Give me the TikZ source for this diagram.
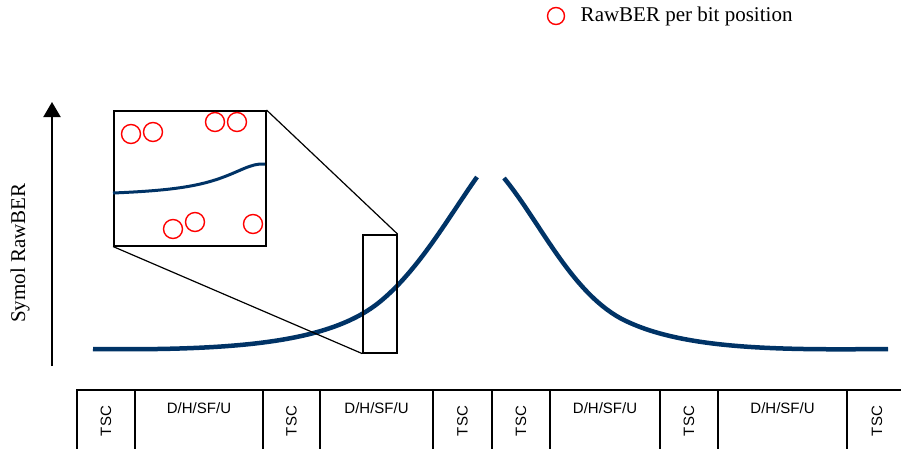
\documentclass[tikz,border=0pt]{standalone}
\usepackage{fontspec}
\setmainfont{Liberation Serif}
\setsansfont{Liberation Sans}
\usetikzlibrary{arrows.meta, positioning}
\definecolor{bernavy}{RGB}{0,51,102}
\tikzset{
  bercurve/.style={line width=4.5pt, bernavy},
  zoomcurve/.style={line width=3pt, bernavy},
  bitdot/.style={circle, draw=red, line width=1.4pt, minimum size=19pt, inner sep=0pt},
  zoombox/.style={rectangle, draw=black, line width=1.5pt, inner sep=0pt, fill=white},
  zoomline/.style={black, line width=1.2pt},
  axis/.style={-{Triangle[length=15pt, width=17pt]}, line width=2pt, black},
  slotbox/.style={rectangle, draw=black, line width=1.4pt, outer sep=0pt, inner sep=0pt,
    minimum height=62pt, font=\sffamily\fontsize{15}{15}\selectfont},
  tscbox/.style={slotbox, minimum width=58pt},
  databox/.style={slotbox, text height=11pt, text depth=27pt, inner ysep=12pt}
}
\begin{document}
\begin{tikzpicture}[x=1pt, y=-1pt]
  \useasboundingbox (0,0) rectangle (901,448);

  % legend
  \node[bitdot, minimum size=17pt] (key) at (556,16) {};
  \node[right=12pt of key, font=\fontsize{21}{21}\selectfont] (keytext) {RawBER per bit position};

  % y axis
  \coordinate (ybot) at (52,366);
  \coordinate (ytop) at (52,102);
  \draw[axis] (ybot) -- (ytop);
  \node[rotate=90, font=\fontsize{21}{21}\selectfont] (ylabel) at (20,253) {Symol RawBER};

  % RawBER curve
  \draw[bercurve] (93,349) .. controls (250,351) and (335,340) .. (382,300)
                  .. controls (420,268) and (450,215) .. (477,177);
  \draw[bercurve] (504,178) .. controls (540,222) and (570,290) .. (620,318)
                  .. controls (680,350) and (780,350) .. (888,349);

  % zoomed window
  \node[zoombox, fill=none, minimum width=34pt, minimum height=118pt, anchor=north west] (win) at (362,234) {};
  \node[zoombox, minimum width=152pt, minimum height=135pt, anchor=north west] (inset) at (113,110) {};
  \draw[zoomline] (inset.north east) -- (win.north east);
  \draw[zoomline] (inset.south west) -- (win.south west);
  \draw[zoomcurve] (113,193) .. controls (160,191) and (190,188) .. (215,180)
                   .. controls (240,172) and (250,163) .. (265,164);
  \node[bitdot] (b1) at (131,134) {};
  \node[bitdot] (b2) at (153,132) {};
  \node[bitdot] (b3) at (215,122) {};
  \node[bitdot] (b4) at (237,122) {};
  \node[bitdot] (b5) at (173,229) {};
  \node[bitdot] (b6) at (195,222) {};
  \node[bitdot] (b7) at (253,224) {};

  % burst structure
  \node[tscbox, anchor=north west] (s1) at (77,390) {\rotatebox{90}{TSC}};
  \node[databox, minimum width=128pt, right=0pt of s1.north east, anchor=north west] (d1) {D/H/SF/U};
  \node[tscbox, minimum width=57pt, right=0pt of d1.north east, anchor=north west] (s2) {\rotatebox{90}{TSC}};
  \node[databox, minimum width=113pt, right=0pt of s2.north east, anchor=north west] (d2) {D/H/SF/U};
  \node[tscbox, minimum width=59pt, right=0pt of d2.north east, anchor=north west] (s3) {\rotatebox{90}{TSC}};
  \node[tscbox, right=0pt of s3.north east, anchor=north west] (s4) {\rotatebox{90}{TSC}};
  \node[databox, minimum width=110pt, right=0pt of s4.north east, anchor=north west] (d3) {D/H/SF/U};
  \node[tscbox, right=0pt of d3.north east, anchor=north west] (s5) {\rotatebox{90}{TSC}};
  \node[databox, minimum width=129pt, right=0pt of s5.north east, anchor=north west] (d4) {D/H/SF/U};
  \node[tscbox, minimum width=60pt, right=0pt of d4.north east, anchor=north west] (s6) {\rotatebox{90}{TSC}};
\end{tikzpicture}
\end{document}
